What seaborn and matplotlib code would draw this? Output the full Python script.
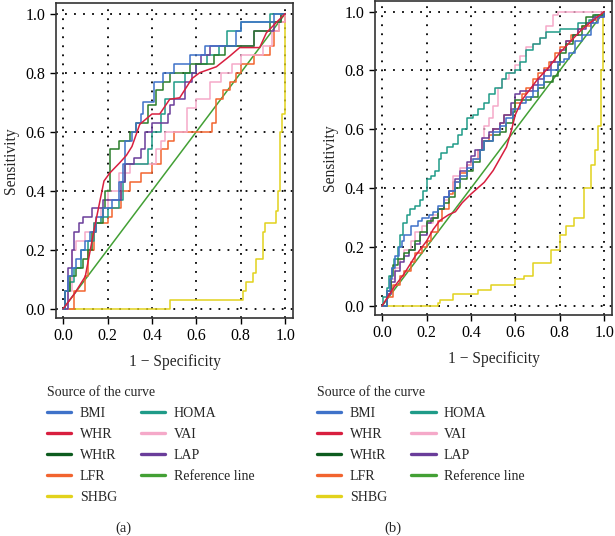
import numpy as np
import pandas as pd
import matplotlib
matplotlib.use("Agg")
import matplotlib.pyplot as plt
from matplotlib.lines import Line2D
import seaborn as sns

names = ['BMI', 'WHR', 'WHtR', 'LFR', 'SHBG', 'HOMA', 'VAI', 'LAP', 'Reference line']
colors = {'BMI': '#3f72c9', 'WHR': '#d81f3f', 'WHtR': '#0d5c1f', 'LFR': '#f2642f',
          'SHBG': '#e2d21c', 'HOMA': '#1f9b88', 'VAI': '#f5a9c9', 'LAP': '#6a3d9a',
          'Reference line': '#43a035'}
plot_colors = dict(colors, WHtR='#2a7d2a')

ticks = [0.0, 0.2, 0.4, 0.6, 0.8, 1.0]
tick_labels = ['0.0', '0.2', '0.4', '0.6', '0.8', '1.0']

# panel (a): (1 - specificity, sensitivity)
a_bmi_x = [0, 0.01, 0.02, 0.04, 0.06, 0.08, 0.10, 0.12, 0.15, 0.18, 0.22, 0.25, 0.27, 0.28, 0.31, 0.33, 0.35, 0.36, 0.41, 0.45, 0.50, 0.57, 0.64, 0.78, 0.80, 0.95, 1.0]
a_bmi_y = [0, 0.06, 0.11, 0.14, 0.17, 0.20, 0.23, 0.26, 0.31, 0.34, 0.37, 0.43, 0.49, 0.57, 0.60, 0.63, 0.66, 0.70, 0.77, 0.80, 0.83, 0.86, 0.89, 0.94, 0.97, 1.0, 1.0]
a_whr_x = [0, 0.05, 0.10, 0.14, 0.184, 0.21, 0.255, 0.285, 0.31, 0.345, 0.40, 0.435, 0.48, 0.525, 0.58, 0.615, 0.69, 0.75, 0.795, 0.885, 0.915, 0.96, 1.0]
a_whr_y = [0, 0.05, 0.11, 0.27, 0.433, 0.46, 0.495, 0.52, 0.55, 0.625, 0.66, 0.66, 0.71, 0.715, 0.78, 0.80, 0.82, 0.856, 0.885, 0.885, 0.935, 0.97, 1.0]
a_whtr_x = [0, 0.01, 0.03, 0.06, 0.09, 0.11, 0.13, 0.15, 0.18, 0.19, 0.21, 0.25, 0.30, 0.33, 0.38, 0.42, 0.45, 0.48, 0.57, 0.63, 0.68, 0.73, 0.86, 0.93, 0.98, 1.0]
a_whtr_y = [0, 0.06, 0.11, 0.14, 0.17, 0.20, 0.26, 0.29, 0.34, 0.40, 0.54, 0.57, 0.60, 0.63, 0.69, 0.74, 0.77, 0.80, 0.83, 0.83, 0.86, 0.89, 0.94, 0.97, 1.0, 1.0]
a_lfr_x = [0, 0.05, 0.10, 0.11, 0.14, 0.20, 0.22, 0.26, 0.30, 0.35, 0.40, 0.44, 0.47, 0.50, 0.60, 0.67, 0.69, 0.72, 0.75, 0.78, 0.80, 0.86, 0.93, 0.95, 0.97, 1.0]
a_lfr_y = [0, 0.06, 0.11, 0.20, 0.29, 0.31, 0.34, 0.40, 0.43, 0.46, 0.49, 0.54, 0.57, 0.60, 0.60, 0.63, 0.71, 0.74, 0.77, 0.80, 0.83, 0.86, 0.89, 0.94, 0.97, 1.0]
a_shbg_x = [0, 0.48, 0.81, 0.825, 0.855, 0.87, 0.90, 0.91, 0.96, 0.967, 0.975, 0.986, 0.997, 1.0]
a_shbg_y = [0, 0.03, 0.06, 0.09, 0.12, 0.17, 0.26, 0.29, 0.33, 0.40, 0.60, 0.66, 1.0, 1.0]
a_homa_x = [0, 0.01, 0.03, 0.05, 0.08, 0.11, 0.14, 0.17, 0.20, 0.25, 0.27, 0.28, 0.37, 0.38, 0.40, 0.44, 0.46, 0.50, 0.55, 0.60, 0.65, 0.70, 0.74, 0.80, 0.93, 1.0]
a_homa_y = [0, 0.06, 0.09, 0.14, 0.20, 0.23, 0.29, 0.31, 0.34, 0.37, 0.43, 0.49, 0.49, 0.54, 0.60, 0.66, 0.71, 0.77, 0.80, 0.83, 0.86, 0.89, 0.94, 0.97, 1.0, 1.0]
a_vai_x = [0, 0.02, 0.04, 0.06, 0.10, 0.14, 0.17, 0.20, 0.25, 0.30, 0.38, 0.42, 0.44, 0.46, 0.55, 0.56, 0.60, 0.66, 0.71, 0.76, 0.80, 0.88, 0.90, 0.94, 0.97, 1.0]
a_vai_y = [0, 0.06, 0.20, 0.23, 0.26, 0.29, 0.34, 0.40, 0.46, 0.49, 0.49, 0.54, 0.57, 0.60, 0.60, 0.68, 0.71, 0.77, 0.80, 0.83, 0.86, 0.86, 0.89, 0.94, 0.97, 1.0]
a_lap_x = [0, 0.02, 0.04, 0.05, 0.07, 0.09, 0.13, 0.18, 0.26, 0.28, 0.32, 0.35, 0.37, 0.40, 0.47, 0.48, 0.50, 0.55, 0.58, 0.60, 0.62, 0.66, 0.78, 0.86, 0.95, 0.98, 1.0]
a_lap_y = [0, 0.14, 0.20, 0.26, 0.29, 0.31, 0.34, 0.37, 0.43, 0.49, 0.51, 0.54, 0.60, 0.63, 0.66, 0.69, 0.71, 0.77, 0.80, 0.83, 0.86, 0.89, 0.89, 0.94, 0.97, 1.0, 1.0]

# panel (b)
b_bmi_x = [0, 0.02, 0.035, 0.045, 0.06, 0.075, 0.09, 0.10, 0.13, 0.16, 0.18, 0.21, 0.23, 0.25, 0.28, 0.30, 0.33, 0.35, 0.38, 0.41, 0.44, 0.46, 0.50, 0.53, 0.56, 0.59, 0.62, 0.65, 0.68, 0.70, 0.73, 0.76, 0.79, 0.82, 0.84, 0.87, 0.90, 0.94, 0.97, 1.0]
b_bmi_y = [0, 0.05, 0.09, 0.13, 0.17, 0.20, 0.22, 0.24, 0.27, 0.29, 0.30, 0.31, 0.32, 0.34, 0.37, 0.39, 0.42, 0.44, 0.47, 0.50, 0.53, 0.56, 0.59, 0.61, 0.64, 0.67, 0.69, 0.71, 0.73, 0.75, 0.78, 0.80, 0.83, 0.84, 0.86, 0.90, 0.92, 0.96, 0.98, 1.0]
b_whr_x = [0, 0.05, 0.10, 0.15, 0.20, 0.23, 0.26, 0.30, 0.33, 0.36, 0.40, 0.43, 0.46, 0.50, 0.53, 0.56, 0.58, 0.60, 0.63, 0.67, 0.70, 0.75, 0.80, 0.85, 0.90, 0.95, 1.0]
b_whr_y = [0, 0.06, 0.11, 0.17, 0.22, 0.26, 0.29, 0.31, 0.32, 0.35, 0.38, 0.40, 0.42, 0.46, 0.50, 0.54, 0.59, 0.65, 0.70, 0.74, 0.77, 0.81, 0.86, 0.90, 0.94, 0.97, 1.0]
b_whtr_x = [0, 0.02, 0.04, 0.05, 0.07, 0.10, 0.12, 0.15, 0.17, 0.20, 0.23, 0.25, 0.28, 0.30, 0.33, 0.35, 0.38, 0.41, 0.44, 0.46, 0.50, 0.53, 0.56, 0.59, 0.60, 0.64, 0.67, 0.70, 0.73, 0.77, 0.79, 0.80, 0.83, 0.86, 0.90, 0.92, 0.95, 1.0]
b_whtr_y = [0, 0.05, 0.10, 0.14, 0.16, 0.18, 0.19, 0.22, 0.25, 0.29, 0.30, 0.33, 0.35, 0.37, 0.40, 0.43, 0.46, 0.49, 0.53, 0.56, 0.58, 0.59, 0.62, 0.66, 0.70, 0.70, 0.71, 0.74, 0.76, 0.78, 0.82, 0.86, 0.89, 0.92, 0.95, 0.98, 0.99, 1.0]
b_lfr_x = [0, 0.02, 0.05, 0.08, 0.10, 0.13, 0.15, 0.18, 0.20, 0.22, 0.25, 0.27, 0.30, 0.32, 0.35, 0.38, 0.40, 0.43, 0.45, 0.48, 0.50, 0.53, 0.55, 0.58, 0.60, 0.63, 0.65, 0.68, 0.70, 0.73, 0.75, 0.78, 0.80, 0.83, 0.85, 0.88, 0.90, 0.94, 0.97, 1.0]
b_lfr_y = [0, 0.03, 0.07, 0.10, 0.12, 0.15, 0.18, 0.20, 0.22, 0.25, 0.29, 0.33, 0.38, 0.42, 0.45, 0.48, 0.50, 0.53, 0.56, 0.58, 0.60, 0.62, 0.65, 0.67, 0.69, 0.72, 0.74, 0.77, 0.79, 0.81, 0.83, 0.86, 0.88, 0.90, 0.92, 0.94, 0.95, 0.97, 0.99, 1.0]
b_shbg_x = [0, 0.25, 0.26, 0.32, 0.43, 0.49, 0.60, 0.64, 0.68, 0.76, 0.80, 0.83, 0.865, 0.91, 0.94, 0.96, 0.97, 0.985, 0.995, 1.0]
b_shbg_y = [0, 0.01, 0.02, 0.04, 0.055, 0.07, 0.09, 0.10, 0.145, 0.19, 0.24, 0.27, 0.30, 0.40, 0.48, 0.53, 0.61, 0.80, 1.0, 1.0]
b_homa_x = [0, 0.005, 0.02, 0.03, 0.045, 0.055, 0.07, 0.08, 0.095, 0.11, 0.125, 0.15, 0.17, 0.185, 0.20, 0.22, 0.24, 0.255, 0.265, 0.29, 0.32, 0.34, 0.36, 0.38, 0.41, 0.43, 0.46, 0.48, 0.51, 0.54, 0.56, 0.60, 0.62, 0.65, 0.68, 0.71, 0.74, 0.80, 0.86, 0.88, 0.93, 0.96, 1.0]
b_homa_y = [0, 0.03, 0.06, 0.10, 0.13, 0.16, 0.20, 0.24, 0.28, 0.31, 0.33, 0.34, 0.36, 0.39, 0.43, 0.44, 0.46, 0.50, 0.52, 0.54, 0.55, 0.58, 0.60, 0.64, 0.65, 0.67, 0.69, 0.72, 0.74, 0.77, 0.79, 0.80, 0.83, 0.87, 0.89, 0.91, 0.93, 0.94, 0.94, 0.96, 0.97, 0.99, 1.0]
b_vai_x = [0, 0.02, 0.04, 0.06, 0.08, 0.10, 0.13, 0.15, 0.18, 0.20, 0.23, 0.25, 0.28, 0.30, 0.32, 0.35, 0.38, 0.40, 0.43, 0.45, 0.46, 0.48, 0.50, 0.52, 0.54, 0.57, 0.60, 0.62, 0.65, 0.68, 0.71, 0.74, 0.77, 0.79, 1.0]
b_vai_y = [0, 0.04, 0.09, 0.13, 0.16, 0.19, 0.22, 0.25, 0.27, 0.28, 0.31, 0.33, 0.36, 0.39, 0.44, 0.47, 0.48, 0.50, 0.53, 0.57, 0.61, 0.64, 0.68, 0.74, 0.77, 0.79, 0.82, 0.85, 0.88, 0.89, 0.91, 0.95, 0.99, 1.0, 1.0]
b_lap_x = [0, 0.02, 0.04, 0.06, 0.08, 0.10, 0.12, 0.15, 0.17, 0.20, 0.22, 0.25, 0.28, 0.30, 0.33, 0.35, 0.38, 0.40, 0.42, 0.45, 0.48, 0.50, 0.53, 0.55, 0.58, 0.60, 0.62, 0.65, 0.68, 0.70, 0.73, 0.76, 0.80, 0.83, 0.86, 0.88, 0.92, 0.95, 1.0]
b_lap_y = [0, 0.04, 0.08, 0.12, 0.15, 0.17, 0.19, 0.21, 0.24, 0.28, 0.30, 0.33, 0.37, 0.39, 0.43, 0.46, 0.49, 0.51, 0.53, 0.57, 0.59, 0.60, 0.62, 0.65, 0.69, 0.72, 0.73, 0.73, 0.75, 0.77, 0.80, 0.83, 0.87, 0.90, 0.92, 0.94, 0.96, 0.98, 1.0]

ref_x = [0, 1]
ref_y = [0, 1]

panel_a = {'BMI': (a_bmi_x, a_bmi_y), 'WHR': (a_whr_x, a_whr_y), 'WHtR': (a_whtr_x, a_whtr_y),
           'LFR': (a_lfr_x, a_lfr_y), 'SHBG': (a_shbg_x, a_shbg_y), 'HOMA': (a_homa_x, a_homa_y),
           'VAI': (a_vai_x, a_vai_y), 'LAP': (a_lap_x, a_lap_y), 'Reference line': (ref_x, ref_y)}
panel_b = {'BMI': (b_bmi_x, b_bmi_y), 'WHR': (b_whr_x, b_whr_y), 'WHtR': (b_whtr_x, b_whtr_y),
           'LFR': (b_lfr_x, b_lfr_y), 'SHBG': (b_shbg_x, b_shbg_y), 'HOMA': (b_homa_x, b_homa_y),
           'VAI': (b_vai_x, b_vai_y), 'LAP': (b_lap_x, b_lap_y), 'Reference line': (ref_x, ref_y)}

# curves drawn as straight segments rather than stairs
smooth_curves = ['Reference line', 'WHR']

sns.set_style("ticks")
plt.rcParams['font.family'] = ['Liberation Serif', 'DejaVu Serif']
plt.rcParams['font.size'] = 10

fig = plt.figure(figsize=(6.15, 5.36), dpi=100)
ax_a = fig.add_axes([56 / 615, 1 - 318 / 536, 237 / 615, 315 / 536])
ax_b = fig.add_axes([375 / 615, 1 - 315 / 536, 237 / 615, 314 / 536])

draw_order = ['Reference line', 'SHBG', 'LFR', 'VAI', 'HOMA', 'LAP', 'WHtR', 'BMI', 'WHR']

for ax, panel in [(ax_a, panel_a), (ax_b, panel_b)]:
    ax.grid(True, color='black', linestyle=(0, (1, 4)), linewidth=1.3, zorder=0)
    for name in draw_order:
        xs, ys = panel[name]
        df = pd.DataFrame({'fpr': xs, 'tpr': ys})
        sns.lineplot(data=df, x='fpr', y='tpr', ax=ax, sort=False, estimator=None,
                     color=plot_colors[name], linewidth=1.1,
                     drawstyle='default' if name in smooth_curves else 'steps-post')
    ax.set_xlim(-0.032, 1.035)
    ax.set_ylim(-0.031, 1.036)
    ax.set_xticks(ticks)
    ax.set_xticklabels(tick_labels)
    ax.set_yticks(ticks)
    ax.set_yticklabels(tick_labels)
    ax.set_xlabel('1 − Specificity', fontsize=11.2, labelpad=7)
    ax.set_ylabel('Sensitivity', fontsize=11.2, labelpad=5)
    ax.tick_params(direction='out', length=4, width=1, colors='black', labelsize=11.5)
    for sp in ax.spines.values():
        sp.set_visible(True)
        sp.set_color('#333333')
        sp.set_linewidth(1.2)
    ax.set_axisbelow(True)

handles = [Line2D([], [], color=colors[n], linewidth=2.4) for n in names]

for left, tag, tagx in [(47, '(a)', 123), (317, '(b)', 393)]:
    leg = fig.legend(handles, names, ncol=2, loc='upper left', frameon=False,
                     bbox_to_anchor=(left / 615, 1 - 386 / 536), borderpad=0, borderaxespad=0,
                     title='Source of the curve', alignment='left', fontsize=10,
                     title_fontsize=10, handlelength=1.75, handletextpad=0.6,
                     columnspacing=1.75, labelspacing=0.57)
    fig.text(tagx / 615, 1 - 528 / 536, tag, ha='center', va='center', fontsize=10.5)

fig.savefig('out.png', dpi=100)
